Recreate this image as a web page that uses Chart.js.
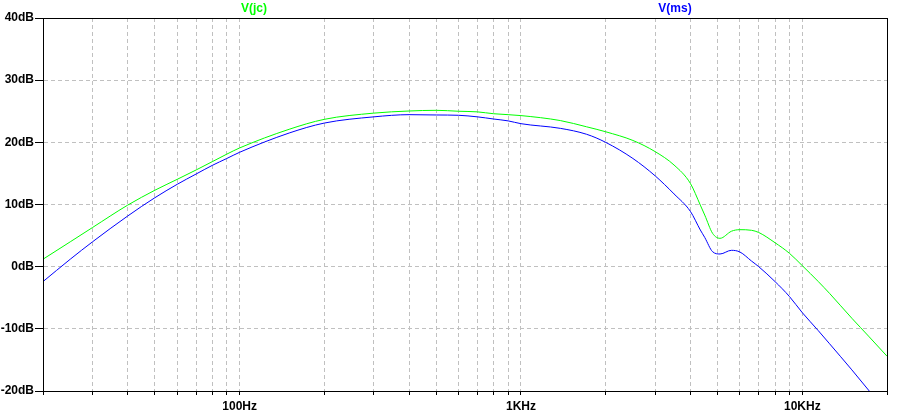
<!DOCTYPE html>
<html>
<head>
<meta charset="utf-8">
<script src="https://cdn.jsdelivr.net/npm/chart.js@4"></script>
<style>
  body { margin: 0; background: #fff; }
  canvas { display: block; }
</style>
</head>
<body>
<canvas id="bode" width="900" height="416"></canvas>
<script>
// frequency points (Hz)
const freqHz = [20, 25, 30, 40, 50, 60, 70, 80, 90, 100,
    150, 200, 300, 400, 500, 600, 700, 800, 900, 1000,
    1380, 1710, 2000, 2500, 3000, 3500, 4000,
    4340, 4500, 4800, 5100,
    5600, 6000, 6600, 7000,
    8000, 9000, 10000,
    11400, 12500, 15000, 17300, 20000];

const vjcDb = [1.2, 4.0, 6.3, 9.9, 12.3, 14.05, 15.55, 16.9, 18.1, 19.1,
    22.1, 23.7, 24.7, 25.04, 25.15, 25.0, 24.9, 24.6, 24.45, 24.3,
    23.5, 22.5, 21.7, 20.3, 18.5, 16.35, 13.4,
    9.9, 8.3, 5.35, 4.56,
    5.7, 5.95, 5.85, 5.5,
    3.85, 2.15, 0.16,
    -2.4, -4.3, -8.3, -11.3, -14.4];

const vmsDb = [-2.4, 1.2, 4.0, 8.15, 11.1, 13.25, 14.9, 16.3, 17.4, 18.4,
    21.5, 23.1, 24.1, 24.45, 24.4, 24.35, 24.1, 23.75, 23.45, 23.0,
    22.25, 21.3, 20.0, 17.4, 14.6, 11.7, 8.9,
    5.9, 4.7, 2.4, 2.04,
    2.63, 2.36, 0.9, 0.0,
    -2.4, -4.8, -7.4,
    -10.3, -12.4, -16.6, -20.0, -23.5];

const xTicksHz = [20, 30, 40, 50, 60, 70, 80, 90,
    100, 200, 300, 400, 500, 600, 700, 800, 900,
    1000, 2000, 3000, 4000, 5000, 6000, 7000, 8000, 9000,
    10000, 20000];
const xTickLabels = { 100: '100Hz', 1000: '1KHz', 10000: '10KHz' };
const yTicksDb = [-20, -10, 0, 10, 20, 30, 40];

const tickFont = { family: 'Liberation Sans, Arial, sans-serif', size: 12, weight: 'bold' };

// black frame round the plot + trace names on top
const framePlugin = {
    id: 'frame',
    afterDraw(chart) {
        const { ctx, chartArea: a } = chart;
        ctx.save();
        ctx.strokeStyle = '#000';
        ctx.lineWidth = 1;
        ctx.strokeRect(Math.round(a.left) + 0.5, Math.round(a.top) + 0.5,
            Math.round(a.right - a.left), Math.round(a.bottom - a.top));
        ctx.font = 'bold 12px Liberation Sans, Arial, sans-serif';
        ctx.textAlign = 'center';
        ctx.textBaseline = 'middle';
        const spots = [254, 675];
        chart.data.datasets.forEach((ds, i) => {
            ctx.fillStyle = ds.borderColor;
            ctx.fillText(ds.label, spots[i], 9);
        });
        ctx.restore();
    }
};

new Chart(document.getElementById('bode'), {
    type: 'line',
    data: {
        datasets: [{
            label: 'V(jc)',
            data: freqHz.map((f, i) => ({ x: f, y: vjcDb[i] })),
            borderColor: '#00ff00',
            borderWidth: 1,
            pointRadius: 0,
            cubicInterpolationMode: 'monotone'
        }, {
            label: 'V(ms)',
            data: freqHz.map((f, i) => ({ x: f, y: vmsDb[i] })),
            borderColor: '#0000ff',
            borderWidth: 1,
            pointRadius: 0,
            cubicInterpolationMode: 'monotone'
        }]
    },
    options: {
        responsive: false,
        animation: false,
        layout: { padding: { left: 0, right: 13, top: 18, bottom: 0 } },
        plugins: {
            legend: { display: false },
            tooltip: { enabled: false }
        },
        scales: {
            x: {
                type: 'logarithmic',
                min: 20,
                max: 20000,
                afterBuildTicks: axis => { axis.ticks = xTicksHz.map(v => ({ value: v })); },
                afterFit: axis => { axis.height = 25; },
                ticks: {
                    autoSkip: false,
                    maxRotation: 0,
                    padding: 4,
                    color: '#000',
                    font: tickFont,
                    callback: v => xTickLabels[v] || ''
                },
                grid: {
                    color: c => (c.tick && (c.tick.value === 20 || c.tick.value === 20000)) ? 'transparent' : '#c0c0c0',
                    tickColor: '#000',
                    tickLength: 4
                },
                border: { color: '#000', dash: [4, 3] }
            },
            y: {
                min: -20,
                max: 40,
                afterBuildTicks: axis => { axis.ticks = yTicksDb.map(v => ({ value: v })); },
                afterFit: axis => { axis.width = 43; },
                ticks: {
                    padding: 1,
                    color: '#000',
                    font: tickFont,
                    callback: v => v + 'dB'
                },
                grid: {
                    color: c => (c.tick && (c.tick.value === -20 || c.tick.value === 40)) ? 'transparent' : '#c0c0c0',
                    tickColor: '#000',
                    tickLength: 8
                },
                border: { color: '#000', dash: [4, 3] }
            }
        }
    },
    plugins: [framePlugin]
});
</script>
</body>
</html>
